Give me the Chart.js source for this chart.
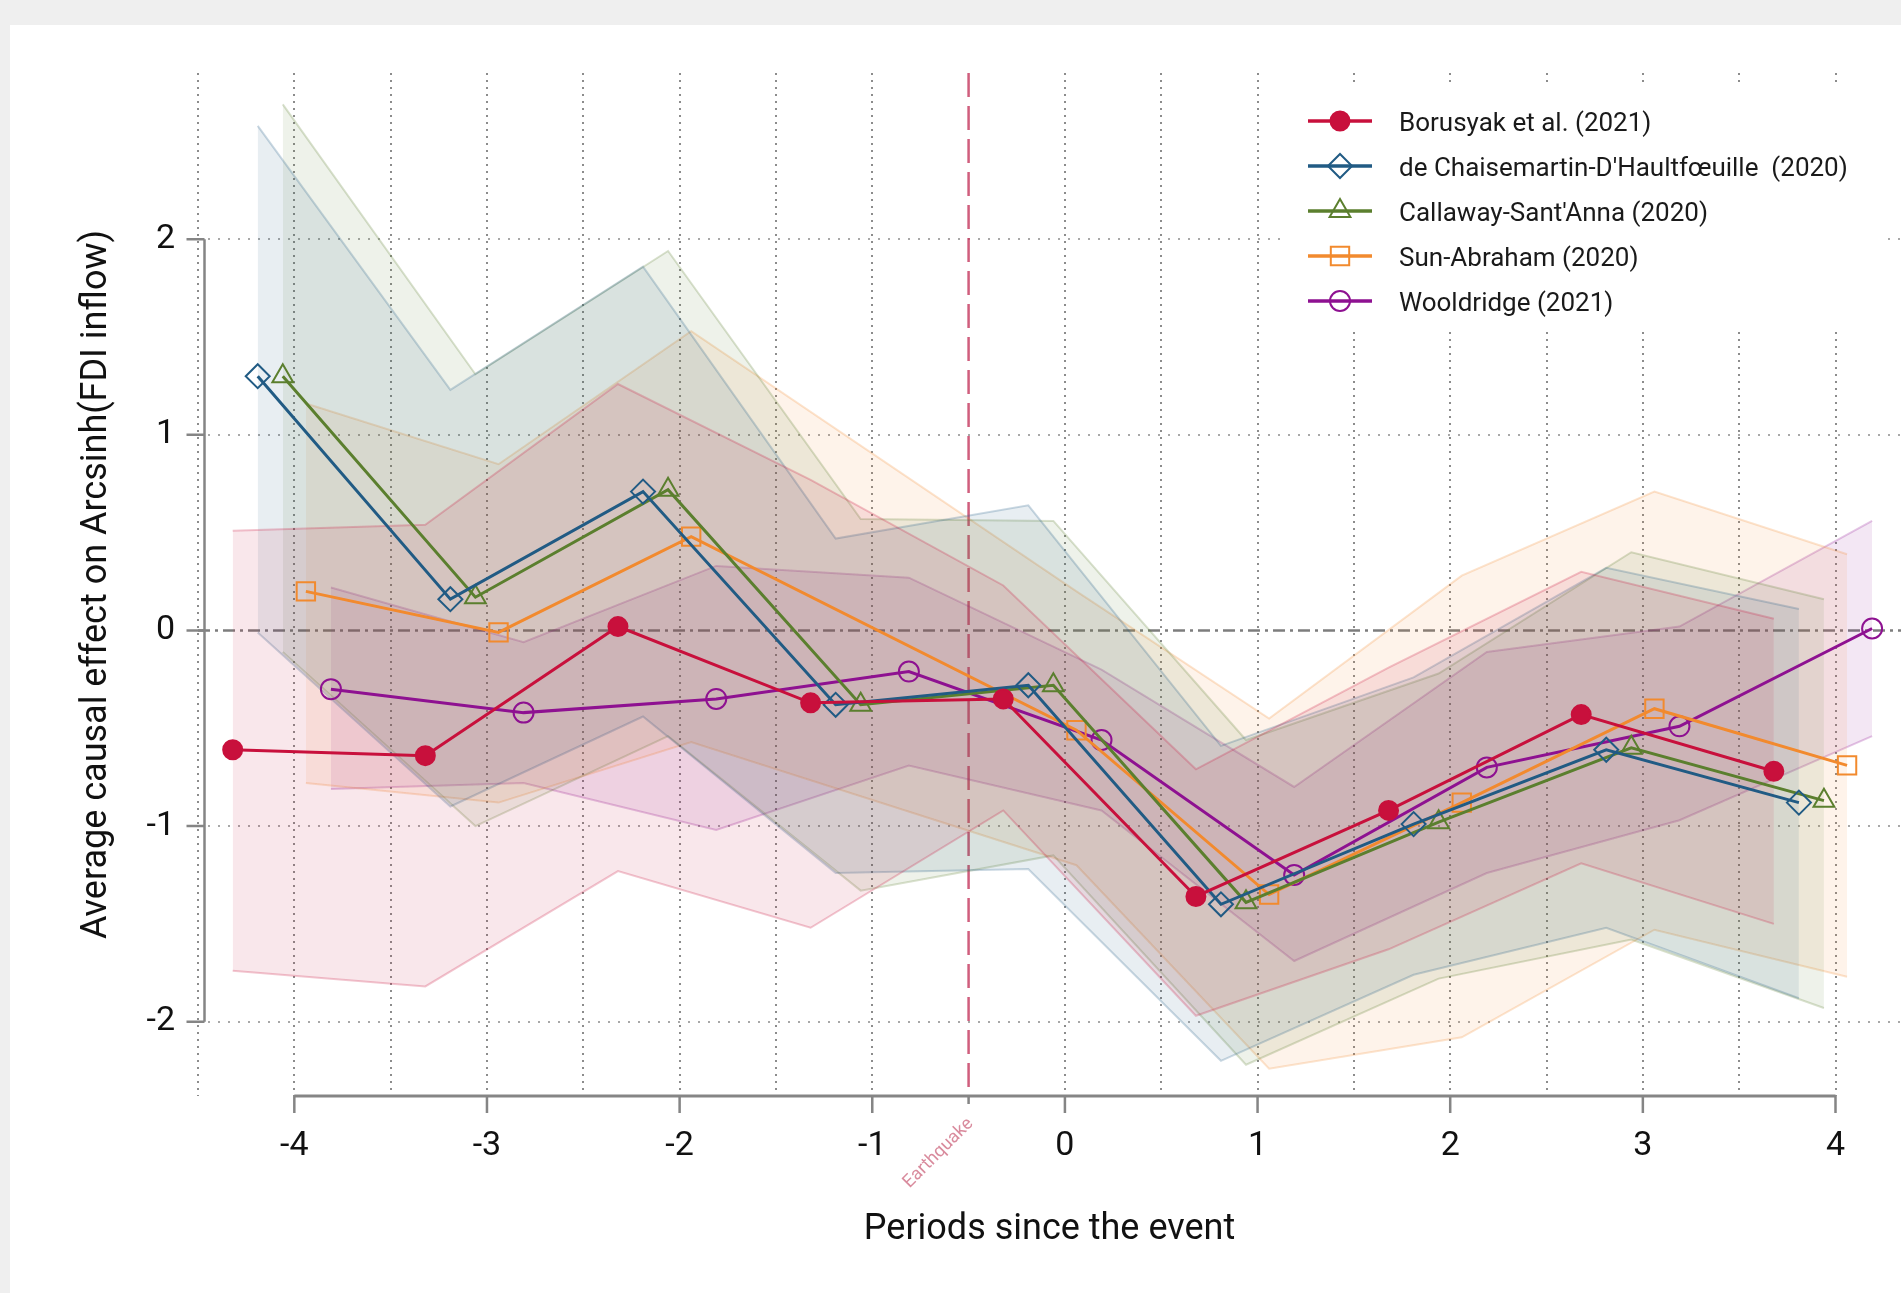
<!DOCTYPE html>
<html>
<head>
<meta charset="utf-8">
<title>Event-study estimates</title>
<script src="https://cdn.jsdelivr.net/npm/chart.js@4.4.1/dist/chart.umd.min.js"></script>
<style>
  html, body { margin: 0; padding: 0; background: #efefef; overflow: hidden; }
  .card { position: absolute; left: 10px; top: 25px; width: 1891px; height: 1268px; background: #fff; }
  canvas { display: block; }
</style>
</head>
<body>
<div class="card"><canvas id="eventChart" width="1891" height="1268"></canvas></div>
<script>
// periods relative to the earthquake
const periods = [-4, -3, -2, -1, 0, 1, 2, 3, 4];
const estimators = [
    'Borusyak et al. (2021)',
    "de Chaisemartin-D'Haultfœuille  (2020)",
    "Callaway-Sant'Anna (2020)",
    'Sun-Abraham (2020)',
    'Wooldridge (2021)'
];
// horizontal dodge of each estimator around the period
const estimatorShift = [-0.32, -0.19, -0.06, 0.06, 0.19];

const borusyakEst = [-0.61, -0.64, 0.02, -0.37, -0.35, -1.36, -0.92, -0.43, -0.72];
const borusyakLo  = [-1.74, -1.82, -1.23, -1.52, -0.92, -1.97, -1.63, -1.19, -1.50];
const borusyakHi  = [0.51, 0.54, 1.26, 0.77, 0.23, -0.71, -0.19, 0.30, 0.06];

const chaisemartinEst = [1.30, 0.16, 0.71, -0.38, -0.28, -1.40, -0.99, -0.61, -0.88];
const chaisemartinLo  = [-0.01, -0.90, -0.44, -1.24, -1.22, -2.20, -1.76, -1.52, -1.88];
const chaisemartinHi  = [2.58, 1.23, 1.86, 0.47, 0.64, -0.59, -0.24, 0.32, 0.11];

const callawayEst = [1.30, 0.17, 0.72, -0.38, -0.28, -1.39, -0.98, -0.60, -0.87];
const callawayLo  = [-0.11, -1.00, -0.54, -1.33, -1.15, -2.22, -1.78, -1.58, -1.93];
const callawayHi  = [2.69, 1.31, 1.94, 0.57, 0.56, -0.56, -0.22, 0.40, 0.16];

// Sun-Abraham has no estimate for the reference period -1
const sunAbrahamEst = [0.20, -0.01, 0.48, null, -0.51, -1.35, -0.88, -0.40, -0.69];
const sunAbrahamLo  = [-0.78, -0.88, -0.57, null, -1.20, -2.24, -2.08, -1.53, -1.77];
const sunAbrahamHi  = [1.16, 0.85, 1.53, null, 0.20, -0.45, 0.28, 0.71, 0.39];

const wooldridgeEst = [-0.30, -0.42, -0.35, -0.21, -0.56, -1.25, -0.70, -0.49, 0.01];
const wooldridgeLo  = [-0.81, -0.78, -1.02, -0.69, -0.92, -1.69, -1.24, -0.97, -0.54];
const wooldridgeHi  = [0.22, -0.06, 0.33, 0.27, -0.20, -0.80, -0.11, 0.02, 0.56];

const yTickValues = [-2, -1, 0, 1, 2];
const eventPeriod = -0.5;
const eventLabel = 'Earthquake';
const xTitle = 'Periods since the event';
const yTitle = 'Average causal effect on Arcsinh(FDI inflow)';

const estimates = [borusyakEst, chaisemartinEst, callawayEst, sunAbrahamEst, wooldridgeEst];
const lowers    = [borusyakLo, chaisemartinLo, callawayLo, sunAbrahamLo, wooldridgeLo];
const uppers    = [borusyakHi, chaisemartinHi, callawayHi, sunAbrahamHi, wooldridgeHi];

const colors  = ['#c8103c', '#215b84', '#5b7f2e', '#f28a2e', '#8e1191'];
const markers = ['circle', 'rectRot', 'triangle', 'rect', 'circle'];
const markerSize = [9.5, 12, 12, 13, 10];
const markerFilled = [true, false, false, false, false];

Chart.defaults.font.family = 'Roboto';

function rgba(hex, a) {
    const n = parseInt(hex.slice(1), 16);
    return `rgba(${n >> 16},${(n >> 8) & 255},${n & 255},${a})`;
}

function toPoints(values, shift) {
    const pts = [];
    periods.forEach((p, i) => {
        if (values[i] !== null) pts.push({ x: p + shift, y: values[i] });
    });
    return pts;
}

const lineSets = estimators.map((name, i) => ({
    label: name,
    data: toPoints(estimates[i], estimatorShift[i]),
    borderColor: colors[i],
    borderWidth: 3,
    tension: 0,
    fill: false,
    pointStyle: markers[i],
    pointRadius: markerSize[i],
    pointHoverRadius: markerSize[i],
    pointBackgroundColor: markerFilled[i] ? colors[i] : 'rgba(0,0,0,0)',
    pointBorderColor: colors[i],
    pointBorderWidth: 2,
    order: 0
}));

const bandSets = [];
estimators.forEach((name, i) => {
    bandSets.push({
        label: name + ' upper',
        data: toPoints(uppers[i], estimatorShift[i]),
        borderColor: rgba(colors[i], 0.24),
        borderWidth: 2,
        pointRadius: 0,
        tension: 0,
        fill: false,
        order: 1
    });
    bandSets.push({
        label: name + ' lower',
        data: toPoints(lowers[i], estimatorShift[i]),
        borderColor: rgba(colors[i], 0.24),
        backgroundColor: rgba(colors[i], 0.1),
        borderWidth: 2,
        pointRadius: 0,
        tension: 0,
        fill: '-1',
        order: 1
    });
});

const stataFrame = {
    id: 'stataFrame',
    beforeDatasetsDraw(chart) {
        const { ctx, chartArea: a, scales: { x, y } } = chart;
        ctx.save();
        // key sits on a white box that hides the grid behind it
        ctx.fillStyle = '#fff';
        ctx.fillRect(a.right - 614, a.top + 9, 598, 250);

        const y0 = y.getPixelForValue(0);
        ctx.strokeStyle = '#7d7d7d';
        ctx.lineWidth = 2.5;
        ctx.setLineDash([12, 5, 3, 5]);
        ctx.beginPath();
        ctx.moveTo(a.left, y0);
        ctx.lineTo(a.right, y0);
        ctx.stroke();

        const xe = x.getPixelForValue(eventPeriod);
        ctx.strokeStyle = 'rgba(196,54,92,0.8)';
        ctx.lineWidth = 2.5;
        ctx.setLineDash([24, 9]);
        ctx.beginPath();
        ctx.moveTo(xe, a.top);
        ctx.lineTo(xe, a.bottom);
        ctx.stroke();
        ctx.restore();
    },
    afterDraw(chart) {
        const { ctx, chartArea: a, scales: { x, y } } = chart;
        ctx.save();
        ctx.strokeStyle = '#858585';
        ctx.setLineDash([]);

        // y axis only spans the labelled range
        const ax = a.left + 6.5;
        ctx.lineWidth = 2.5;
        ctx.beginPath();
        ctx.moveTo(ax, y.getPixelForValue(yTickValues[yTickValues.length - 1]));
        ctx.lineTo(ax, y.getPixelForValue(yTickValues[0]));
        yTickValues.forEach(v => {
            const py = y.getPixelForValue(v);
            ctx.moveTo(ax - 18, py);
            ctx.lineTo(ax, py);
        });
        ctx.stroke();

        // x axis from first to last period
        const ay = a.bottom;
        ctx.lineWidth = 3;
        ctx.beginPath();
        ctx.moveTo(x.getPixelForValue(periods[0]), ay);
        ctx.lineTo(x.getPixelForValue(periods[periods.length - 1]), ay);
        ctx.stroke();
        ctx.lineWidth = 2.5;
        ctx.beginPath();
        periods.forEach(p => {
            const px = x.getPixelForValue(p);
            ctx.moveTo(px, ay);
            ctx.lineTo(px, ay + 17);
        });
        const xe = x.getPixelForValue(eventPeriod);
        ctx.moveTo(xe, ay);
        ctx.lineTo(xe, ay + 8);
        ctx.stroke();

        // event label, slanted under the axis
        ctx.save();
        ctx.translate(xe + 2, ay + 25);
        ctx.rotate(-Math.PI / 4);
        ctx.fillStyle = '#d98b9d';
        ctx.font = '18px Roboto';
        ctx.textAlign = 'right';
        ctx.textBaseline = 'middle';
        ctx.fillText(eventLabel, 0, 0);
        ctx.restore();

        // key
        const kx = a.right - 593;
        const ky = a.top + 48;
        const draw = Chart.helpers && Chart.helpers.drawPoint;
        estimators.forEach((name, i) => {
            const ry = ky + i * 45;
            ctx.setLineDash([]);
            ctx.strokeStyle = colors[i];
            ctx.lineWidth = 3.5;
            ctx.beginPath();
            ctx.moveTo(kx, ry);
            ctx.lineTo(kx + 64, ry);
            ctx.stroke();
            ctx.lineWidth = 2;
            ctx.fillStyle = markerFilled[i] ? colors[i] : 'rgba(0,0,0,0)';
            if (draw) {
                draw(ctx, { pointStyle: markers[i], radius: markerSize[i], rotation: 0, borderWidth: 2 }, kx + 32, ry);
            }
            ctx.fillStyle = '#1a1a1a';
            ctx.font = '26px Roboto';
            ctx.textAlign = 'left';
            ctx.textBaseline = 'middle';
            ctx.fillText(name, kx + 91, ry + 3);
        });
        ctx.restore();
    }
};

const ctx = document.getElementById('eventChart').getContext('2d');
new Chart(ctx, {
    type: 'line',
    data: { datasets: lineSets.concat(bandSets) },
    options: {
        responsive: false,
        animation: false,
        devicePixelRatio: 1,
        layout: { autoPadding: false, padding: { top: 48, left: 0, right: 0, bottom: 0 } },
        scales: {
            x: {
                type: 'linear',
                min: -4.5,
                max: 4.34,
                ticks: {
                    stepSize: 0.5,
                    includeBounds: false,
                    autoSkip: false,
                    maxRotation: 0,
                    padding: 30,
                    color: '#111',
                    font: { size: 34 },
                    callback: v => (Number.isInteger(v) && periods.includes(v)) ? String(v) : ''
                },
                grid: {
                    drawTicks: false,
                    lineWidth: 2,
                    color: c => (c.tick && Math.abs(c.tick.value - eventPeriod) < 1e-6) ? 'rgba(0,0,0,0)' : '#8c8c8c'
                },
                border: { display: false, dash: [2, 5] },
                title: { display: true, text: xTitle, color: '#111', font: { size: 36 }, padding: { top: 0, bottom: 41 } },
                afterFit: s => { s.height = 197; s.paddingLeft = 0; s.paddingRight = 0; }
            },
            y: {
                min: -2.38,
                max: 2.85,
                ticks: {
                    stepSize: 1,
                    includeBounds: false,
                    padding: 23,
                    color: '#111',
                    font: { size: 34 },
                    callback: v => yTickValues.includes(v) ? String(v) : ''
                },
                grid: {
                    drawTicks: false,
                    lineWidth: 2,
                    color: c => (c.tick && c.tick.value === 0) ? 'rgba(0,0,0,0)' : '#a8a8a8'
                },
                border: { display: false, dash: [2, 8] },
                title: { display: true, text: yTitle, color: '#111', font: { size: 36 }, padding: { top: 65, bottom: 0 } },
                afterFit: s => { s.width = 188; s.paddingTop = 0; s.paddingBottom = 0; }
            }
        },
        plugins: {
            legend: { display: false },
            tooltip: { enabled: false }
        }
    },
    plugins: [stataFrame]
});
</script>
</body>
</html>
